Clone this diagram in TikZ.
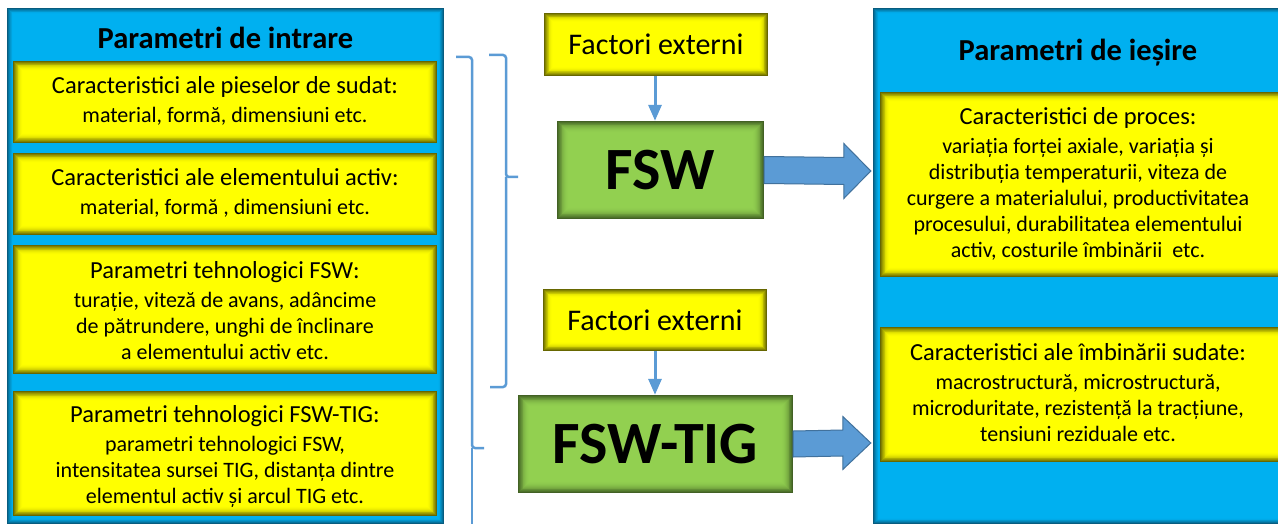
\documentclass[tikz,border=0pt]{standalone}
\usepackage{fontspec}
\setmainfont{Carlito}
\usetikzlibrary{arrows.meta,calc}
\definecolor{ylw}{HTML}{FFFF00}
\definecolor{ylwdark}{HTML}{454500}
\definecolor{cyanp}{HTML}{00B0F0}
\definecolor{cyandark}{HTML}{0A4A66}
\definecolor{grn}{HTML}{92D050}
\definecolor{grndark}{HTML}{30491A}
\definecolor{arrowblue}{HTML}{5B9BD5}
\definecolor{arrowedge}{HTML}{41719C}
\newcommand\glowbox[7]{%
  \foreach \i in {0,...,#7}{%
    \pgfmathsetmacro\p{18+82*(1-(1-\i/#7)^2)}%
    \fill[#5!\p!#6] ({#1+\i*0.9},{#2+\i*0.9}) rectangle ({#3-\i*0.9},{#4-\i*0.9});}}
\tikzset{
  boxtext/.style={inner sep=0pt, align=center, font=\fontsize{22}{26}\selectfont},
  header/.style={inner sep=0pt, font=\fontsize{30.5}{34}\selectfont\bfseries},
  factor/.style={inner sep=0pt, font=\fontsize{30}{34}\selectfont},
  bigtext/.style={inner sep=0pt, font=\fontsize{60}{64}\selectfont\bfseries},
  thinarrow/.style={draw=arrowblue, line width=3pt, -{Triangle[width=13pt,length=16pt]}},
  fatarrow/.style={fill=arrowblue, draw=arrowedge, line width=1pt, line join=miter},
  bracestyle/.style={draw=arrowblue, line width=2.5pt, rounded corners=3pt},
}
\newcommand\ttl[1]{{\fontsize{24.5}{26}\selectfont #1}\\[3pt]}
\begin{document}
\begin{tikzpicture}[x=1pt,y=-1pt]
\clip (0,0) rectangle (1278,524);
\fill[white] (0,0) rectangle (1278,524);
% input panel
\glowbox{7}{8}{444}{524}{cyanp}{cyandark}{7}
\node[header] (inhead) at (225.5,38) {Parametri de intrare};
\glowbox{13}{61}{437}{143}{ylw}{ylwdark}{11}
\node[boxtext] (in1) at (225,101) {\ttl{Caracteristici ale pieselor de sudat:}material, formă, dimensiuni etc.};
\glowbox{13}{153}{437}{235}{ylw}{ylwdark}{11}
\node[boxtext] (in2) at (225,193) {\ttl{Caracteristici ale elementului activ:}material, formă , dimensiuni etc.};
\glowbox{13}{245}{437}{374}{ylw}{ylwdark}{11}
\node[boxtext] (in3) at (225,311) {\ttl{Parametri tehnologici FSW:}turație, viteză de avans, adâncime\\de pătrundere, unghi de înclinare\\a elementului activ etc.};
\glowbox{13}{391}{437}{516}{ylw}{ylwdark}{11}
\node[boxtext] (in4) at (225,457) {\ttl{Parametri tehnologici FSW-TIG:}parametri tehnologici FSW,\\intensitatea sursei TIG, distanța dintre\\elementul activ și arcul TIG etc.};
% braces
\draw[bracestyle] (489,55) -- (506,55) -- (506,177) -- (518,177);
\draw[bracestyle] (506,177) -- (506,387) -- (490,387);
\draw[bracestyle] (456,57) -- (472,57) -- (472,448) -- (484,448);
\draw[bracestyle] (472,448) -- (472,540);
% middle column
\glowbox{544}{13}{768}{76}{ylw}{ylwdark}{10}
\node[factor, minimum width=224pt, minimum height=63pt] (fe1) at (656,44.5) {Factori externi};
\glowbox{557}{121}{764}{219}{grn}{grndark}{13}
\node[bigtext, minimum width=207pt, minimum height=98pt] (fsw) at (660.5,170) {\raisebox{-3pt}{FSW}};
\glowbox{543}{289}{767}{351}{ylw}{ylwdark}{10}
\node[factor, minimum width=224pt, minimum height=62pt] (fe2) at (655,320) {Factori externi};
\glowbox{518}{395}{793}{493}{grn}{grndark}{13}
\node[bigtext, minimum width=275pt, minimum height=98pt] (fswtig) at (655.5,444) {\raisebox{-2pt}{FSW-TIG}};
\draw[thinarrow] (fe1.south -| 655,0) -- (fsw.north -| 655,0);
\draw[thinarrow] (fe2.south -| 655,0) -- (fswtig.north -| 655,0);
% output panel
\glowbox{873}{8}{1300}{524}{cyanp}{cyandark}{7}
\node[inner sep=0pt, minimum width=427pt, minimum height=516pt] (outp) at (1086.5,266) {};
\node[header] (outhead) at (1078,53) {Parametri de ieșire};
\glowbox{880}{92}{1290}{277}{ylw}{ylwdark}{11}
\node[boxtext] (out1) at (1078,184) {\ttl{Caracteristici de proces:}variația forței axiale, variația și\\distribuția temperaturii, viteza de\\curgere a materialului, productivitatea\\procesului, durabilitatea elementului\\activ, costurile îmbinării\ \ etc.};
\glowbox{880}{327}{1290}{462}{ylw}{ylwdark}{11}
\node[boxtext] (out2) at (1078,393) {\ttl{Caracteristici ale îmbinării sudate:}macrostructură, microstructură,\\microduritate, rezistență la tracțiune,\\tensiuni reziduale etc.};
% fat arrows
\coordinate (t1) at ($(outp.west |- fsw.east)+(-2,1)$);
\coordinate (t2) at ($(outp.west |- fswtig.east)+(-2,-1)$);
\draw[fatarrow] ($(fsw.east)+(0,-13.5)$) -- ($(t1)+(-27,-13.5)$) -- ($(t1)+(-27,-27.5)$) -- (t1) -- ($(t1)+(-27,27.5)$) -- ($(t1)+(-27,13.5)$) -- ($(fsw.east)+(0,13.5)$) -- cycle;
\draw[fatarrow] ($(fswtig.east)+(0,-13)$) -- ($(t2)+(-28,-13)$) -- ($(t2)+(-28,-26.5)$) -- (t2) -- ($(t2)+(-28,26.5)$) -- ($(t2)+(-28,13)$) -- ($(fswtig.east)+(0,13)$) -- cycle;
\end{tikzpicture}
\end{document}
